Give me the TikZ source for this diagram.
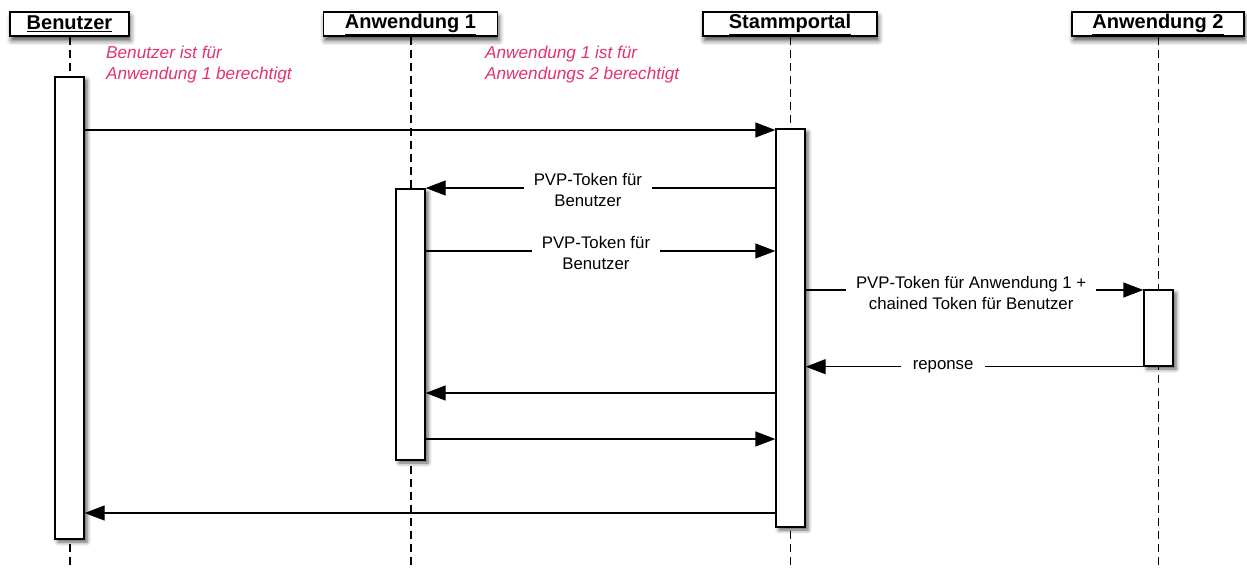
\documentclass[tikz,border=0pt]{standalone}
\usepackage{fontspec}
\setmainfont{Liberation Sans}
\usetikzlibrary{arrows.meta,shadows.blur}
\definecolor{notecol}{RGB}{226,50,112}
\tikzset{
  head/.style={draw, line width=1.4pt, fill=white, minimum height=24pt, inner sep=0pt,
    font=\fontsize{20}{22}\selectfont\bfseries,
    blur shadow={shadow xshift=1.5pt, shadow yshift=-4.5pt, shadow blur radius=5pt, shadow opacity=70}},
  act/.style={draw, line width=1.4pt, fill=white, minimum width=29pt, inner sep=0pt,
    blur shadow={shadow xshift=3pt, shadow yshift=-3pt, shadow blur radius=4pt, shadow opacity=65}},
  life/.style={line width=1.6pt, dash pattern=on 8pt off 5pt},
  msg/.style={line width=1.4pt, -{Triangle[length=20pt,width=15pt]}},
  lbl/.style={fill=white, align=center, inner xsep=10pt, inner ysep=1pt,
    font=\fontsize{16.8}{21}\selectfont},
  note/.style={text=notecol, align=left, anchor=north west, inner sep=0pt,
    font=\fontsize{17.2}{21}\selectfont\itshape}
}
\begin{document}
\begin{tikzpicture}[x=1pt,y=-1pt]
\useasboundingbox (0,0) rectangle (1247,569);
% headers
\node[head, minimum width=119pt] (hB) at (69.5,24) {\underline{Benutzer}};
\node[head, minimum width=174pt] (hA1) at (410.5,24) {\underline{Anwendung 1}};
\node[head, minimum width=174pt] (hS) at (790,24) {\underline{Stammportal}};
\node[head, minimum width=172pt] (hA2) at (1158,24) {\underline{Anwendung 2}};
% lifeline ends
\coordinate (eB) at (70,566);
\coordinate (eA1) at (411,566);
\coordinate (eS) at (790.5,566);
\coordinate (eA2) at (1158.5,566);
\draw[life] (hB.south -| eB) -- (eB);
\draw[life] (hA1.south -| eA1) -- (eA1);
\draw[life] (hS.south -| eS) -- (eS);
\draw[life] (hA2.south -| eA2) -- (eA2);
% notes
\node[note] (n1) at (106,46) {Benutzer ist für\\Anwendung 1 berechtigt};
\node[note] (n2) at (485,46) {Anwendung 1 ist für\\Anwendungs 2 berechtigt};
% activation boxes
\node[act, minimum height=462pt] (aB) at (69.5,308) {};
\node[act, minimum height=398pt] (aS) at (790.5,328) {};
\node[act, minimum height=271pt] (aA1) at (410.5,324.5) {};
\node[act, minimum height=76pt] (aA2) at (1158.5,328) {};
% messages
\draw[msg] (aB.east |- 0,130) -- (aS.west |- 0,130);
\draw[msg] (aS.west |- 0,188) -- node[lbl, pos=0.536, yshift=-2pt] {PVP-Token für\\Benutzer} (aA1.east |- 0,188);
\draw[msg] (aA1.east |- 0,251) -- node[lbl, pos=0.487, yshift=-2pt] {PVP-Token für\\Benutzer} (aS.west |- 0,251);
\draw[msg] (aS.east |- 0,290) -- node[lbl, pos=0.49, yshift=-3pt] {PVP-Token für Anwendung 1 +\\chained Token für Benutzer} (aA2.west |- 0,290);
\draw[msg] (aA2.south west) -- node[lbl, pos=0.593, inner xsep=12pt] {reponse} (aS.east |- aA2.south west);
\draw[msg] (aS.west |- 0,393) -- (aA1.east |- 0,393);
\draw[msg] (aA1.east |- 0,439) -- (aS.west |- 0,439);
\draw[msg] (aS.west |- 0,513) -- (aB.east |- 0,513);
\end{tikzpicture}
\end{document}
